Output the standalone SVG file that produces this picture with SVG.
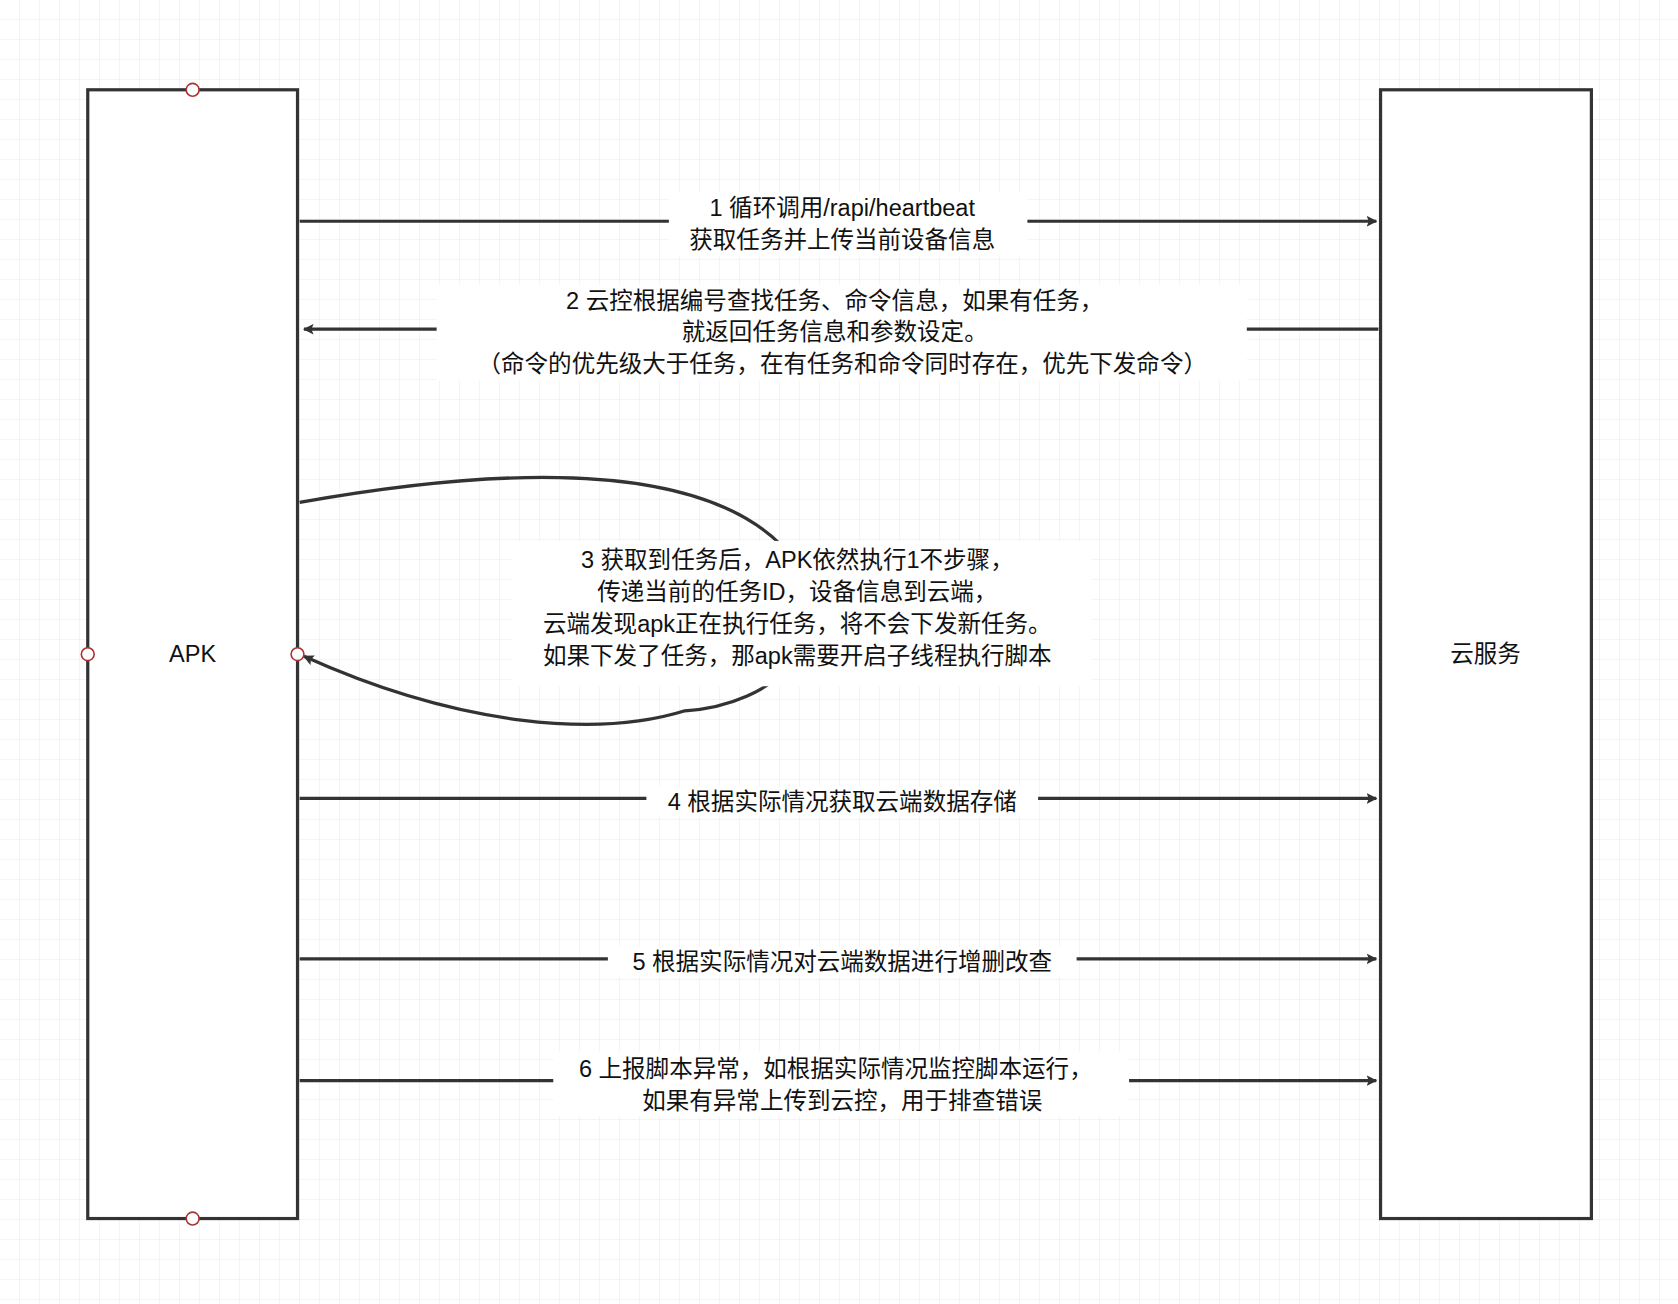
<svg xmlns="http://www.w3.org/2000/svg" width="1678" height="1304" viewBox="0 0 1678 1304">
<defs>
<pattern id="g" width="20" height="20" patternUnits="userSpaceOnUse"><path d="M20 0V20H0" fill="none" stroke="#e8e8e8" stroke-width="1"/></pattern>
<marker id="a" viewBox="0 0 10 10" refX="9" refY="5" markerWidth="10" markerHeight="10" markerUnits="userSpaceOnUse" orient="auto"><path d="M0,0L10,5L0,10L2,5z" fill="#333"/></marker>
<style>
.box{fill:#fff;stroke:#333;stroke-width:3}
.c{fill:#fff;stroke:#a33;stroke-width:1.5}
.l{fill:none;stroke:#333;stroke-width:3}
text{font-family:"Liberation Sans","Noto Sans CJK SC",sans-serif;font-size:22px;fill:#111;text-anchor:middle;dominant-baseline:central}
.bg{fill:#fff}
</style>
</defs>
<rect width="1678" height="1304" fill="#fff"/>
<rect width="1678" height="1304" fill="url(#g)"/>
<g transform="scale(1.0702,1.0689)">
<g id="apk"><rect class="box" x="82" y="84" width="196" height="1056"/><text x="180" y="612">APK</text></g>
<g id="cloud"><rect class="box" x="1290" y="84" width="197" height="1056"/><text x="1388" y="612">云服务</text></g>
<g id="connectors">
<path class="l" d="M280,207H1286" marker-end="url(#a)"/>
<rect class="bg" x="625" y="180" width="335" height="60"/>
<text x="787" y="195">1 循环调用/rapi/heartbeat</text><text x="787" y="225">获取任务并上传当前设备信息</text>
<path class="l" d="M1288,308H284" marker-end="url(#a)"/>
<rect class="bg" x="408" y="266" width="757" height="90"/>
<text x="780" y="282">2 云控根据编号查找任务、命令信息，如果有任务，</text><text x="780" y="311">就返回任务信息和参数设定。</text><text x="787" y="341">（命令的优先级大于任务，在有任务和命令同时存在，优先下发命令）</text>
<path class="l" d="M280,470C420,445 640,420 730,510C800,600 720,660 640,665C560,690 430,680 284,614" marker-end="url(#a)"/>
<rect class="bg" x="478" y="506" width="542" height="136"/>
<text x="745" y="524">3 获取到任务后，APK依然执行1不步骤，</text><text x="745" y="554">传递当前的任务ID，设备信息到云端，</text><text x="745" y="584">云端发现apk正在执行任务，将不会下发新任务。</text><text x="745" y="614">如果下发了任务，那apk需要开启子线程执行脚本</text>
<path class="l" d="M280,747H1286" marker-end="url(#a)"/>
<rect class="bg" x="604" y="736" width="366" height="28"/><text x="787" y="750">4 根据实际情况获取云端数据存储</text>
<path class="l" d="M280,897H1286" marker-end="url(#a)"/>
<rect class="bg" x="568" y="886" width="438" height="28"/><text x="787" y="900">5 根据实际情况对云端数据进行增删改查</text>
<path class="l" d="M280,1011H1286" marker-end="url(#a)"/>
<rect class="bg" x="517" y="984" width="538" height="60"/>
<text x="781" y="1000">6 上报脚本异常，如根据实际情况监控脚本运行，</text><text x="787" y="1030">如果有异常上传到云控，用于排查错误</text>
</g>
<g id="points"><circle class="c" cx="180" cy="84" r="6"/><circle class="c" cx="180" cy="1140" r="6"/><circle class="c" cx="82" cy="612" r="6"/><circle class="c" cx="278" cy="612" r="6"/></g>
</g>
</svg>
